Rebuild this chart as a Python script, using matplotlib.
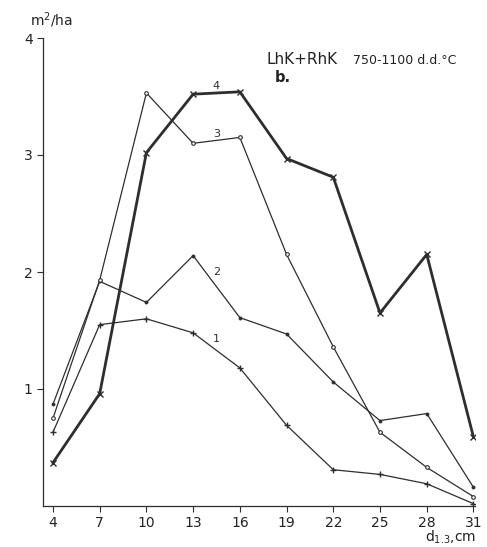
import matplotlib
matplotlib.use("Agg")
import matplotlib.pyplot as plt

# diameter classes, cm
diam = [4, 7, 10, 13, 16, 19, 22, 25, 28, 31]

# basal area, m2/ha
s1 = [0.63, 1.55, 1.60, 1.48, 1.18, 0.69, 0.31, 0.27, 0.19, 0.02]
s2 = [0.87, 1.92, 1.74, 2.14, 1.61, 1.47, 1.06, 0.73, 0.79, 0.16]
s3 = [0.75, 1.93, 3.53, 3.10, 3.15, 2.15, 1.36, 0.63, 0.33, 0.08]
s4 = [0.37, 0.96, 3.02, 3.52, 3.54, 2.97, 2.81, 1.65, 2.15, 0.59]

yticks = [1, 2, 3, 4]
ink = "#2e2e2e"

fig = plt.figure(figsize=(4.87, 5.47), dpi=100)
ax = fig.add_axes([43 / 487, 1 - 506 / 547, (475 - 43) / 487, (506 - 38) / 547])

ax.plot(diam, s1, color=ink, lw=0.9, marker="+", ms=5, mew=1.0)
ax.plot(diam, s2, color=ink, lw=0.9, marker="o", ms=2.2, mfc=ink, mew=0.6)
ax.plot(diam, s3, color=ink, lw=0.9, marker="o", ms=2.6, mfc="white", mew=0.8)
ax.plot(diam, s4, color=ink, lw=2.0, marker="x", ms=4, mew=1.0)

# curve numbers
ax.text(14.5, 1.43, "1", fontsize=8, color=ink, ha="center", va="center")
ax.text(14.5, 2.00, "2", fontsize=8, color=ink, ha="center", va="center")
ax.text(14.5, 3.18, "3", fontsize=8, color=ink, ha="center", va="center")
ax.text(14.5, 3.59, "4", fontsize=8, color=ink, ha="center", va="center")

ax.set_xlim(3.36, 31.1)
ax.set_ylim(0, 4)
ax.set_xticks(diam)
ax.set_yticks(yticks)
ax.tick_params(direction="out", length=4, width=0.8, colors=ink,
               labelsize=10, labelcolor="#222222")
for side in ("top", "right"):
    ax.spines[side].set_visible(False)
for side in ("left", "bottom"):
    ax.spines[side].set_color(ink)
    ax.spines[side].set_linewidth(0.9)

fig.text(30 / 487, 1 - 20 / 547, r"m$^2$/ha", fontsize=10, color="#222222",
         va="center", ha="left")
fig.text(425 / 487, 1 - 537 / 547, r"d$_{1.3}$,cm", fontsize=10,
         color="#222222", va="center", ha="left")
fig.text(267 / 487, 1 - 60 / 547, "LhK+RhK", fontsize=11, color="#222222",
         va="center", ha="left")
fig.text(353 / 487, 1 - 61 / 547, "750-1100 d.d.°C", fontsize=9,
         color="#222222", va="center", ha="left")
fig.text(275 / 487, 1 - 77 / 547, "b.", fontsize=10.5, color="#222222",
         fontweight="bold", va="center", ha="left")

fig.savefig("out.png", dpi=100)
